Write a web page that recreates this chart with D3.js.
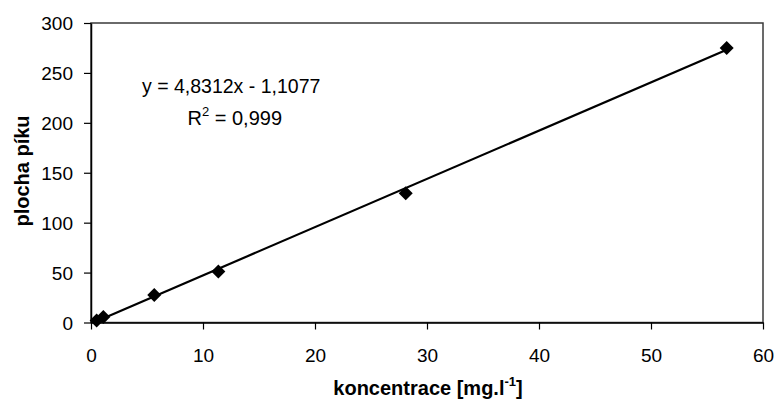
<!DOCTYPE html>
<html>
<head>
<meta charset="utf-8">
<script src="https://cdn.jsdelivr.net/npm/d3@7"></script>
<style>
  body { margin: 0; background: #fff; }
  svg { font-family: "Liberation Sans", Arial, sans-serif; }
</style>
</head>
<body>
<svg id="chart" width="779" height="407"></svg>
<script>
// measured points (concentration, peak area)
const conc = [0.5, 1.1, 5.65, 11.37, 28.1, 56.76];
const area = [2, 5.5, 27.5, 51, 129.5, 275];
const slope = 4.8312, intercept = -1.1077;
const xTicks = [0, 10, 20, 30, 40, 50, 60];
const yTicks = [0, 50, 100, 150, 200, 250, 300];

const layout = {width: 779, height: 407, left: 91, right: 763, top: 23, bottom: 322.5};

const svg = d3.select("#chart");

const x = d3.scaleLinear().domain([0, 60]).range([layout.left, layout.right]);
const y = d3.scaleLinear().domain([0, 300]).range([layout.bottom, layout.top]);

// frame
svg.append("rect")
  .attr("x", layout.left).attr("y", layout.top)
  .attr("width", layout.right - layout.left)
  .attr("height", layout.bottom - layout.top)
  .attr("fill", "none").attr("stroke", "#3a3a3a").attr("stroke-width", 1.5);

const xAxis = svg.append("g")
  .attr("transform", `translate(0, ${layout.bottom})`)
  .call(d3.axisBottom(x).tickValues(xTicks).tickSize(7).tickSizeOuter(0));
const yAxis = svg.append("g")
  .attr("transform", `translate(${layout.left}, 0)`)
  .call(d3.axisLeft(y).tickValues(yTicks).tickSize(7).tickSizeOuter(0));

[xAxis, yAxis].forEach(g => {
  g.select(".domain").attr("stroke", "#000").attr("stroke-width", 1.5);
  g.selectAll(".tick line").attr("stroke", "#000").attr("stroke-width", 1.2);
  g.selectAll(".tick text")
    .attr("font-family", "Liberation Sans, Arial, sans-serif")
    .attr("font-size", 19).attr("fill", "#000");
});
xAxis.selectAll(".tick text").attr("y", 0).attr("dy", 0).attr("transform", "translate(0, 39.5)");
yAxis.selectAll(".tick text").attr("x", -18).attr("dy", "0.35em");

// trendline
const xr = d3.extent(conc);
svg.append("line")
  .attr("x1", x(xr[0])).attr("y1", y(slope * xr[0] + intercept))
  .attr("x2", x(xr[1])).attr("y2", y(slope * xr[1] + intercept))
  .attr("stroke", "#000").attr("stroke-width", 2.2);

// points
const pts = conc.map((c, i) => [c, area[i]]);
svg.append("g").selectAll("path")
  .data(pts)
  .join("path")
  .attr("transform", d => `translate(${x(d[0])}, ${y(d[1])})`)
  .attr("d", "M0,-7L7,0L0,7L-7,0Z")
  .attr("fill", "#000");

// equation
svg.append("text")
  .attr("x", 142).attr("y", 93)
  .attr("font-size", 19.5)
  .text("y = 4,8312x - 1,1077");
const r2 = svg.append("text")
  .attr("x", 187.5).attr("y", 125)
  .attr("font-size", 20);
r2.append("tspan").text("R");
r2.append("tspan").attr("dy", -9).attr("font-size", 13).text("2");
r2.append("tspan").attr("dy", 9).text(" = 0,999");

// axis titles
const xt = svg.append("text")
  .attr("x", (layout.left + layout.right) / 2 + 1).attr("y", 395)
  .attr("text-anchor", "middle")
  .attr("font-size", 20).attr("font-weight", "bold")
  .text("koncentrace [mg.l");
xt.append("tspan").attr("dy", -9).attr("font-size", 13).text("-1");
xt.append("tspan").attr("dy", 9).text("]");

svg.append("text")
  .attr("transform", `translate(29, 171) rotate(-90)`)
  .attr("text-anchor", "middle")
  .attr("font-size", 20).attr("font-weight", "bold")
  .text("plocha píku");
</script>
</body>
</html>
